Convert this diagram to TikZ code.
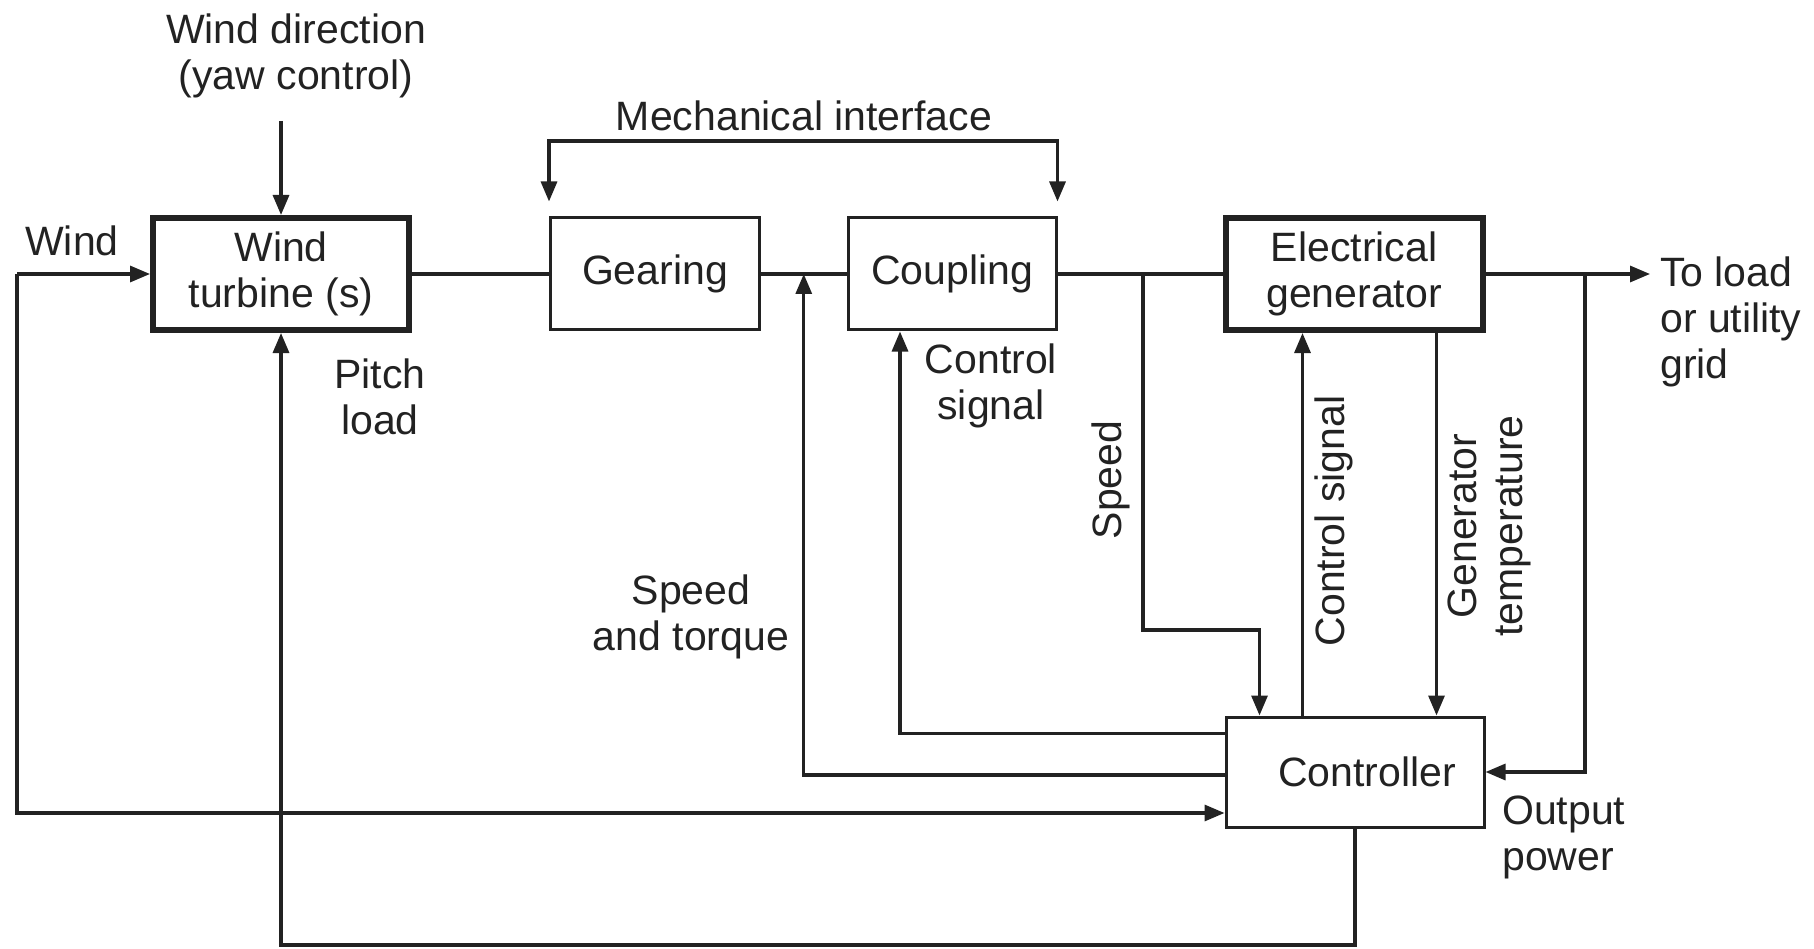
\documentclass[tikz,border=0pt]{standalone}
\usepackage{fontspec}
\setmainfont{Liberation Sans}
\usetikzlibrary{arrows.meta,calc}
\definecolor{ink}{HTML}{222222}
\tikzset{
  lbl/.style={text=ink,font=\fontsize{41}{46}\selectfont,align=center,inner sep=0pt},
  blk/.style={draw=ink,line width=3pt,minimum height=112pt,inner sep=0pt,text=ink,font=\fontsize{41}{46}\selectfont,align=center},
  thickblk/.style={blk,line width=6pt},
  conn/.style={draw=ink,line width=3.2pt},
  arr/.style={conn,-{Triangle[length=20pt,width=16pt]}}
}
\begin{document}
\begin{tikzpicture}[x=1pt,y=-1pt]
\useasboundingbox (0,0) rectangle (1814,949);
% blocks
\node[thickblk,minimum width=256pt] (wt) at (281,274) {Wind\\turbine (s)};
\node[blk,minimum width=209pt] (gear) at (655,274) {Gearing};
\node[blk,minimum width=208pt] (coup) at (952,274) {Coupling};
\node[thickblk,minimum width=257pt] (gen) at (1354,274) {Electrical\\generator};
\node[blk,minimum width=258pt,minimum height=110pt] (ctrl) at (1355,772) {\hspace*{24pt}Controller};
% labels
\node[lbl] (wdl) at (296,56) {Wind direction\\(yaw control)};
\node[lbl] (windl) at (72,241) {Wind};
\node[lbl] (mil) at (804,116) {Mechanical interface};
\node[lbl] (pitchl) at (380,397) {Pitch\\load};
\node[lbl] (csl) at (991,386) {Control\\signal};
\node[lbl] (stl) at (691,617) {Speed\\and torque};
\node[lbl,rotate=90] (spl) at (1111,480) {Speed};
\node[lbl,rotate=90] (cgl) at (1334,521) {Control signal};
\node[lbl,rotate=90] (gtl) at (1489,526) {Generator\\temperature};
\node[lbl,anchor=west,align=left] (gridl) at (1660,322) {To load\\or utility\\grid};
\node[lbl,anchor=west,align=left] (opl) at (1502,837) {Output\\power};
% coordinates
\coordinate (wdtop) at (281,121);
\coordinate (wl) at (17,274);
\coordinate (wbot) at (17,813);
\coordinate (mbar) at (0,141);
\coordinate (bot) at (0,945);
\coordinate (out) at (1650,274);
\coordinate (sp) at (1143,274);
\coordinate (spc) at (1143,630);
\coordinate (op) at (1585,274);
\coordinate (gc) at ($(gear.east)!0.5!(coup.west)$);
\coordinate (cs) at ($(ctrl.north west)+(78,0)$);
\coordinate (gt) at ($(gen.south west)+(214,0)$);
% main chain
\draw[conn] (wt.east) -- (gear.west);
\draw[conn] (gear.east) -- (coup.west);
\draw[conn] (coup.east) -- (gen.west);
\draw[arr] (gen.east) -- (out);
% inputs
\draw[arr] (wdtop) -- (wt.north);
\draw[arr] (wl) -- (wt.west);
\draw[arr] (wl) -- (wbot) -- (wbot -| ctrl.west);
% mechanical interface
\draw[conn,{Triangle[length=20pt,width=16pt]}-{Triangle[length=20pt,width=16pt]},shorten <=15pt,shorten >=15pt]
  (gear.north west) -- (gear.north west |- mbar) -- (coup.north east |- mbar) -- (coup.north east);
% controller loops
\draw[arr] (ctrl.south) -- (ctrl.south |- bot) -| (wt.south);
\draw[arr] ($(ctrl.west)+(0,3)$) -| (gc);
\draw[arr] ($(ctrl.north west)+(0,18)$) -| ($(coup.south)+(-52,0)$);
\draw[arr] (sp) -- (spc) -| ($(ctrl.north west)+(35,0)$);
\draw[arr] (cs) -- (cs |- gen.south);
\draw[arr] (gt) -- (gt |- ctrl.north);
\draw[arr] (op) |- (ctrl.east);
\end{tikzpicture}
\end{document}
